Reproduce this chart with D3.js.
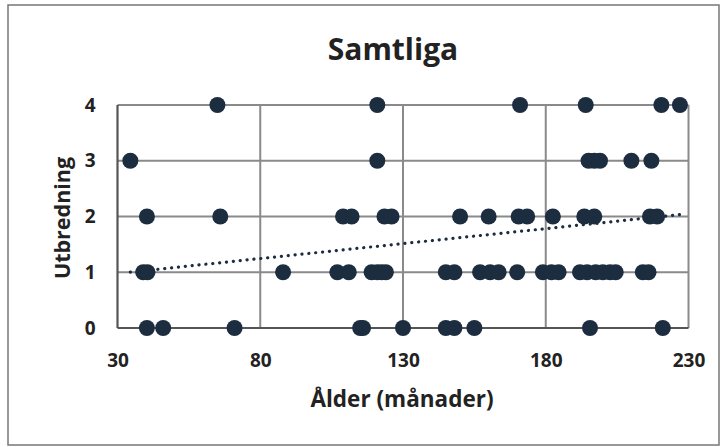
<!DOCTYPE html>
<html><head><meta charset="utf-8">
<script src="https://cdn.jsdelivr.net/npm/d3@7/dist/d3.min.js"></script>
<style>body{margin:0;background:#fff}svg{display:block}</style>
</head><body>
<script>
const title = "Samtliga";
const xLabel = "Ålder (månader)";
const yLabel = "Utbredning";
const xTicks = [30, 80, 130, 180, 230];
const yTicks = [0, 1, 2, 3, 4];
// Ålder (x) values, grouped by Utbredning level
const ages4 = [65, 121, 171, 194, 220.5, 227];
const ages3 = [34.5, 121, 195, 197, 199, 210, 217];
const ages2 = [40.3, 66, 109, 112, 123.5, 126, 150, 160, 170.5, 173.5, 182.5, 193.5, 197, 216.5, 219];
const ages1 = [39, 40.5, 88, 107, 111, 119, 121, 122.5, 124, 145, 148, 157, 160.5, 163.5, 170, 179, 182, 184.5, 192, 194.5, 197.5, 200, 202.5, 204.5, 214, 216];
const ages0 = [40.3, 46, 71, 115, 116, 130, 145, 148, 155, 195.5, 221];
const levels = [4, 3, 2, 1, 0];
// linear trendline as shown in the chart (Utbredning = intercept + slope * Ålder)
const trendIntercept = 0.817;
const trendSlope = 0.00536;

const W = 725, H = 447;
const svg = d3.select("body").append("svg").attr("width", W).attr("height", H);
const F = "'Open Sans', 'Noto Sans', sans-serif";

svg.append("rect").attr("x", 8).attr("y", 5).attr("width", 711).attr("height", 440)
  .attr("fill", "#fff").attr("stroke", "#777").attr("stroke-width", 1.5);

const x = d3.scaleLinear().domain([30, 230]).range([117.5, 688.5]);
const y = d3.scaleLinear().domain([0, 4]).range([328, 105]);

// grid
const g = svg.append("g");
g.selectAll(".vg").data(xTicks.slice(1)).join("line")
  .attr("x1", d => x(d)).attr("x2", d => x(d)).attr("y1", y(4)).attr("y2", y(0))
  .attr("stroke", "#8a8a8a").attr("stroke-width", 2);
g.selectAll(".hg").data(yTicks.slice(1)).join("line")
  .attr("x1", x(30)).attr("x2", x(230)).attr("y1", d => y(d)).attr("y2", d => y(d))
  .attr("stroke", "#8a8a8a").attr("stroke-width", 2);
// axes lines
g.append("line").attr("x1", x(30)).attr("x2", x(30)).attr("y1", y(4)).attr("y2", y(0))
  .attr("stroke", "#555").attr("stroke-width", 2.2);
g.append("line").attr("x1", x(30)).attr("x2", x(230)).attr("y1", y(0)).attr("y2", y(0))
  .attr("stroke", "#555").attr("stroke-width", 2.2);

// axes via d3 (text only)
const xAxis = svg.append("g").attr("transform", `translate(0,${y(0)})`)
  .call(d3.axisBottom(x).tickValues(xTicks).tickFormat(d3.format("d")).tickSize(0).tickPadding(25.5));
const yAxis = svg.append("g").attr("transform", `translate(${x(30)},0)`)
  .call(d3.axisLeft(y).tickValues(yTicks).tickFormat(d3.format("d")).tickSize(0).tickPadding(22));
[xAxis, yAxis].forEach(a => {
  a.select(".domain").remove();
  a.selectAll("text").attr("font-family", F).attr("font-weight", "bold")
    .attr("font-size", 19).attr("fill", "#222");
});

// points
const pts = [];
[ages4, ages3, ages2, ages1, ages0].forEach((arr, i) => arr.forEach(a => pts.push({a, u: levels[i]})));
svg.append("g").selectAll("circle").data(pts).join("circle")
  .attr("cx", d => x(d.a)).attr("cy", d => y(d.u)).attr("r", 8)
  .attr("fill", "#1c2d40");

// trendline across the data range
const x0 = d3.min(pts, d => d.a), x1 = d3.max(pts, d => d.a);
svg.append("line").attr("x1", x(x0)).attr("x2", x(x1))
  .attr("y1", y(trendIntercept + trendSlope * x0)).attr("y2", y(trendIntercept + trendSlope * x1))
  .attr("stroke", "#1c2d40").attr("stroke-width", 3.2)
  .attr("stroke-dasharray", "0.1 6.8").attr("stroke-linecap", "round");

svg.append("text").attr("x", 393).attr("y", 60).attr("text-anchor", "middle")
  .attr("font-family", F).attr("font-weight", "bold").attr("font-size", 30).attr("fill", "#222").text(title);
svg.append("text").attr("x", 402).attr("y", 407).attr("text-anchor", "middle")
  .attr("font-family", F).attr("font-weight", "bold").attr("font-size", 22.5).attr("fill", "#222").text(xLabel);
svg.append("text").attr("transform", "translate(70,218) rotate(-90)").attr("text-anchor", "middle")
  .attr("font-family", F).attr("font-weight", "bold").attr("font-size", 21.5).attr("fill", "#222").text(yLabel);
</script>
</body></html>
